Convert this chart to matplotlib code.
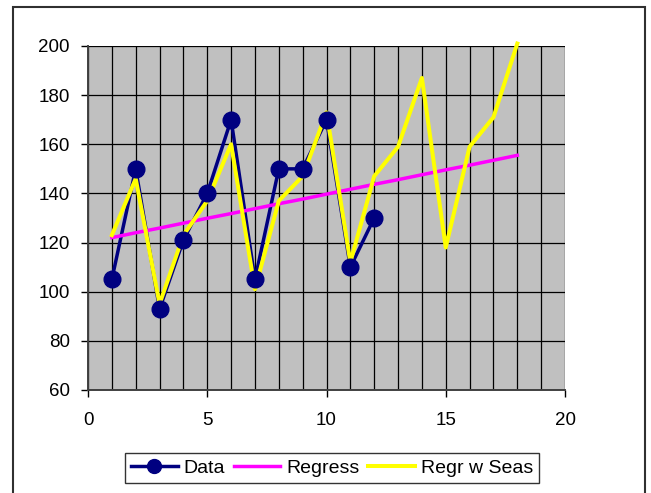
import numpy as np
import matplotlib
matplotlib.use("Agg")
import matplotlib.pyplot as plt
from matplotlib.lines import Line2D
from matplotlib.patches import Rectangle
from matplotlib.ticker import MultipleLocator

plt.rcParams['font.family'] = ['Liberation Sans', 'DejaVu Sans']

# data
x_data = [1, 2, 3, 4, 5, 6, 7, 8, 9, 10, 11, 12]
y_data = [105, 150, 93, 121, 140, 170, 105, 150, 150, 170, 110, 130]

x_fit = list(range(1, 19))
y_regress = [122.0, 124.0, 125.9, 127.9, 129.9, 131.8, 133.8, 135.8, 137.7,
             139.7, 141.7, 143.7, 145.6, 147.6, 149.6, 151.5, 153.5, 155.5]
y_seas = [123, 146, 95, 123, 137, 160, 101, 137, 147,
          173, 112, 147, 159, 187, 118, 159, 171, 201]

x_ticks = [0, 5, 10, 15, 20]
y_ticks = [60, 80, 100, 120, 140, 160, 180, 200]

NAVY = "#000080"
MAGENTA = "#FF00FF"
YELLOW = "#FFFF00"

fig = plt.figure(figsize=(6.51, 4.93), dpi=100)
ax = fig.add_axes([88 / 651, 1 - 390 / 493, 477 / 651, 344 / 493])
ax.set_facecolor("#C0C0C0")

# lines first, markers of the data series on top
ax.plot(x_data, y_data, color=NAVY, lw=2.5, zorder=3)
ax.plot(x_fit, y_regress, color=MAGENTA, lw=2.5, zorder=4)
ax.plot(x_fit, y_seas, color=YELLOW, lw=2.9, zorder=5, clip_on=False)
ax.plot(x_data, y_data, ls="none", marker="o", ms=12, color=NAVY, zorder=6)

ax.set_xlim(0, 20)
ax.set_ylim(60, 200)
ax.set_xticks(x_ticks)
ax.set_yticks(y_ticks)
ax.xaxis.set_minor_locator(MultipleLocator(1))
ax.tick_params(which="major", direction="out", length=5, width=1,
               labelsize=13.5, pad=11)
ax.tick_params(axis="y", pad=8)
ax.tick_params(which="minor", length=0)

ax.grid(True, which="both", axis="x", color="black", lw=0.9, zorder=1)
ax.grid(True, which="major", axis="y", color="black", lw=0.9, zorder=1)
ax.set_axisbelow(True)

for side in ["top", "right"]:
    ax.spines[side].set_visible(False)
for side in ["left", "bottom"]:
    ax.spines[side].set_color("#404040")
    ax.spines[side].set_linewidth(1.4)

handles = [
    Line2D([], [], color=NAVY, lw=2.5, marker="o", ms=10),
    Line2D([], [], color=MAGENTA, lw=2.5),
    Line2D([], [], color=YELLOW, lw=2.9),
]
leg = fig.legend(handles, ["Data", "Regress", "Regr w Seas"],
                 loc="center", bbox_to_anchor=(332 / 651, 1 - 468 / 493),
                 ncol=3, fontsize=14, frameon=True, fancybox=False,
                 edgecolor="black", handlelength=2.4, handletextpad=0.3,
                 columnspacing=0.45, borderpad=0.3, borderaxespad=0)
leg.get_frame().set_linewidth(1.0)

# outer chart border
fig.patches.append(Rectangle((13 / 651, -0.05), 632 / 651, 486 / 493 + 0.05,
                             transform=fig.transFigure, fill=False,
                             edgecolor="#303030", lw=1.5, clip_on=False))

fig.savefig("out.png", dpi=100)
